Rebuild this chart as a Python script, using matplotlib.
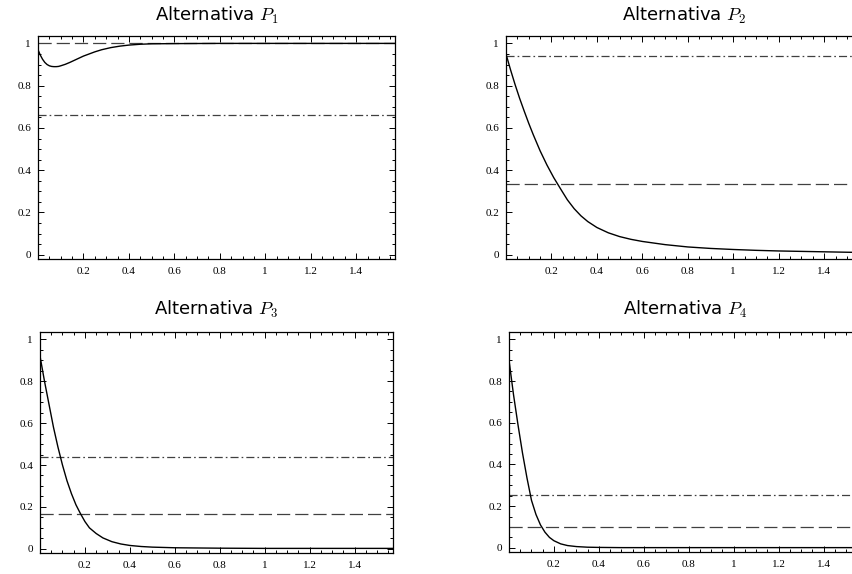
import matplotlib
matplotlib.use('Agg')
import matplotlib.pyplot as plt
from matplotlib.ticker import MultipleLocator, FuncFormatter

# curves, one per alternative
x1 = [0, 0.01, 0.02, 0.03, 0.04, 0.05, 0.06, 0.07, 0.08, 0.09, 0.10, 0.12, 0.14, 0.16,
      0.18, 0.20, 0.22, 0.25, 0.28, 0.32, 0.36, 0.40, 0.45, 0.50, 0.60, 0.80, 1.0, 1.2, 1.4, 1.5708]
y1 = [0.97, 0.945, 0.925, 0.910, 0.900, 0.894, 0.891, 0.890, 0.890, 0.891, 0.894, 0.901,
      0.910, 0.920, 0.930, 0.940, 0.948, 0.960, 0.970, 0.980, 0.987, 0.992, 0.996, 0.998,
      0.999, 1.0, 1.0, 1.0, 1.0, 1.0]

x2 = [0, 0.02, 0.04, 0.06, 0.08, 0.10, 0.12, 0.15, 0.18, 0.21, 0.24, 0.27, 0.30, 0.33,
      0.36, 0.40, 0.45, 0.50, 0.55, 0.60, 0.70, 0.80, 0.90, 1.0, 1.1, 1.2, 1.3, 1.4, 1.5, 1.5708]
y2 = [0.95, 0.875, 0.805, 0.74, 0.68, 0.622, 0.568, 0.492, 0.425, 0.365, 0.312, 0.26,
      0.218, 0.184, 0.157, 0.129, 0.104, 0.086, 0.073, 0.063, 0.048, 0.037, 0.030, 0.025,
      0.021, 0.018, 0.016, 0.014, 0.012, 0.011]

x3 = [0, 0.02, 0.04, 0.06, 0.08, 0.10, 0.12, 0.14, 0.16, 0.18, 0.20, 0.22, 0.25, 0.28,
      0.32, 0.36, 0.40, 0.45, 0.50, 0.60, 0.80, 1.0, 1.2, 1.4, 1.5708]
y3 = [0.92, 0.80, 0.69, 0.58, 0.485, 0.40, 0.325, 0.263, 0.21, 0.168, 0.13, 0.10, 0.073,
      0.052, 0.034, 0.023, 0.016, 0.011, 0.008, 0.005, 0.003, 0.002, 0.002, 0.002, 0.002]

x4 = [0, 0.02, 0.04, 0.06, 0.08, 0.10, 0.12, 0.14, 0.16, 0.18, 0.20, 0.23, 0.26, 0.30,
      0.35, 0.40, 0.50, 0.70, 1.0, 1.3, 1.5708]
y4 = [0.90, 0.735, 0.59, 0.455, 0.335, 0.228, 0.16, 0.11, 0.075, 0.05, 0.034, 0.019,
      0.011, 0.006, 0.003, 0.002, 0.001, 0.001, 0.001, 0.001, 0.001]

# reference levels: dashed and dash-dot
dashed_levels = [1.0, 0.333, 0.167, 0.10]
dashdot_levels = [0.66, 0.94, 0.44, 0.255]
titles = ['Alternativa $P_1$', 'Alternativa $P_2$', 'Alternativa $P_3$', 'Alternativa $P_4$']

xs = [x1, x2, x3, x4]
ys = [y1, y2, y3, y4]

plt.rcParams['mathtext.fontset'] = 'cm'
plt.rcParams['lines.scale_dashes'] = False

W, H = 853, 574
fig = plt.figure(figsize=(W / 100, H / 100), dpi=100)

# axes boxes in pixels: left, top, right, bottom
boxes = [(38, 36, 395, 259), (506, 36, 863, 259),
         (40, 332, 393, 553), (509, 332, 862, 552)]
title_pads = [11, 11, 12, 12]


def fmt(v, pos):
    s = '%.1f' % v
    if s.endswith('.0'):
        s = s[:-2]
    return s


for i in range(4):
    l, t, r, b = boxes[i]
    ax = fig.add_axes([l / W, 1 - b / H, (r - l) / W, (b - t) / H])
    ax.axhline(dashed_levels[i], color='0.25', lw=0.9, dashes=(9.5, 3.6))
    ax.axhline(dashdot_levels[i], color='0.25', lw=0.9, dashes=(5.8, 2.2, 1.2, 2.2))
    ax.plot(xs[i], ys[i], color='black', lw=1.0)
    ax.set_xlim(0, 1.5708)
    ax.set_ylim(-0.02, 1.035)
    ax.set_xticks([0.2, 0.4, 0.6, 0.8, 1.0, 1.2, 1.4])
    ax.set_yticks([0, 0.2, 0.4, 0.6, 0.8, 1.0])
    ax.xaxis.set_minor_locator(MultipleLocator(0.05))
    ax.yaxis.set_minor_locator(MultipleLocator(0.05))
    ax.xaxis.set_major_formatter(FuncFormatter(fmt))
    ax.yaxis.set_major_formatter(FuncFormatter(fmt))
    ax.tick_params(which='both', direction='in', top=True, right=True, width=0.7)
    ax.tick_params(which='major', length=4)
    ax.tick_params(which='minor', length=2)
    ax.tick_params(axis='x', pad=6)
    ax.tick_params(axis='y', pad=5)
    for lab in ax.get_xticklabels() + ax.get_yticklabels():
        lab.set_fontfamily('Liberation Serif')
        lab.set_fontsize(8)
    for sp in ax.spines.values():
        sp.set_linewidth(0.9)
    ax.set_title(titles[i], fontsize=13, pad=title_pads[i], family='DejaVu Sans')

fig.savefig('out.png', dpi=100)
